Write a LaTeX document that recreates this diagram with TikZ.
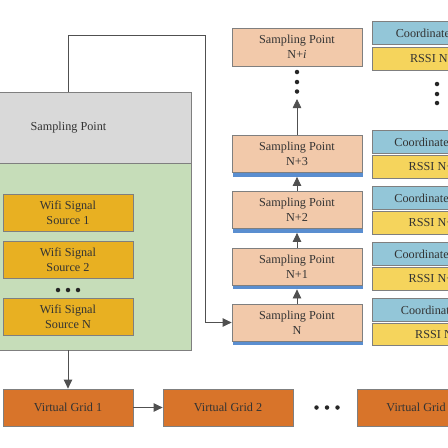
\documentclass[tikz,border=0pt]{standalone}
\usepackage{fontspec}
\setmainfont{Liberation Serif}
\usetikzlibrary{arrows.meta,shadows}
\definecolor{bordergray}{HTML}{7F7F7F}
\definecolor{topgray}{HTML}{D9D9D9}
\definecolor{lightgreen}{HTML}{C6DDB9}
\definecolor{wifiyellow}{HTML}{E8B022}
\definecolor{gridorange}{HTML}{D8742A}
\definecolor{peach}{HTML}{F2C9AA}
\definecolor{stripblue}{HTML}{5A8ED0}
\definecolor{coordblue}{HTML}{93C6D8}
\definecolor{rssiyellow}{HTML}{F5D45C}
\definecolor{txt}{HTML}{333333}
\definecolor{linegray}{HTML}{505050}
\tikzset{
  box/.style={draw=bordergray, line width=0.8pt, inner sep=1pt, align=center,
    text=txt, font=\fontsize{12.2}{14.7}\selectfont},
  wifibox/.style={box, fill=wifiyellow, minimum width=130pt, minimum height=37pt},
  gridbox/.style={box, fill=gridorange, minimum width=130pt, minimum height=37pt},
  sampbox/.style={box, fill=peach, minimum width=130pt, minimum height=37pt},
  stripbox/.style={sampbox, general shadow={fill=stripblue, shadow xshift=1.2pt, shadow yshift=-4pt}},
  coordbox/.style={box, fill=coordblue, minimum width=124pt, minimum height=22.5pt},
  rssibox/.style={box, fill=rssiyellow, minimum width=124pt, minimum height=22.5pt},
  conn/.style={draw=linegray, line width=0.8pt},
  arr/.style={conn, -{Triangle[length=9pt,width=8.5pt]}},
  dot/.style={circle, fill=black!85, inner sep=0pt, minimum size=4.5pt}
}
\begin{document}
\begin{tikzpicture}[x=1pt,y=-1pt]
\useasboundingbox (0,0) rectangle (448,448);
\clip (0,0) rectangle (448,448);
\fill[white] (0,0) rectangle (448,448);
% left block
\node[box, fill=topgray, minimum width=245pt, minimum height=71pt] (sp) at (68.5,127.5) {Sampling Point};
\node[box, fill=lightgreen, minimum width=245pt, minimum height=187pt] (green) at (68.5,256.5) {};
\node[wifibox] (w1) at (68,213) {Wifi Signal\\Source 1};
\node[wifibox] (w2) at (68,259.5) {Wifi Signal\\Source 2};
\node[wifibox] (wn) at (68,316.5) {Wifi Signal\\Source N};
\node[dot] (wd1) at (58,290) {};
\node[dot] (wd2) at (68,290) {};
\node[dot] (wd3) at (78,290) {};
% virtual grids
\node[gridbox] (vg1) at (68,407.5) {Virtual Grid 1};
\node[gridbox] (vg2) at (228,407.5) {Virtual Grid 2};
\node[gridbox] (vgn) at (422,407.5) {Virtual Grid N};
\node[dot] (gd1) at (316.5,407.5) {};
\node[dot] (gd2) at (327,407.5) {};
\node[dot] (gd3) at (337.5,407.5) {};
% sampling points column
\node[sampbox, minimum height=38pt] (si) at (297,47) {Sampling Point\\N+\textit{i}};
\node[stripbox] (s3) at (297,154) {Sampling Point\\N+3};
\node[stripbox] (s2) at (297,210) {Sampling Point\\N+2};
\node[stripbox] (s1) at (297,266.5) {Sampling Point\\N+1};
\node[stripbox] (sN) at (297,322.5) {Sampling Point\\N};
\node[dot] (sd1) at (297,72) {};
\node[dot] (sd2) at (297,82) {};
\node[dot] (sd3) at (297,91.5) {};
\coordinate (sdtip) at (297,99);
% coordinate / rssi column
\node[coordbox] (ci) at (434,33) {Coordinate N+\textit{i}};
\node[rssibox] (ri) at (434,59) {RSSI N+\textit{i}};
\node[coordbox] (c3) at (434,142) {Coordinate N+3};
\node[rssibox] (r3) at (434,167) {RSSI N+3};
\node[coordbox] (c2) at (434,198) {Coordinate N+2};
\node[rssibox] (r2) at (434,223) {RSSI N+2};
\node[coordbox] (c1) at (434,254) {Coordinate N+1};
\node[rssibox] (r1) at (434,279) {RSSI N+1};
\node[coordbox] (c0) at (434,310) {Coordinate N};
\node[rssibox] (r0) at (434,334.5) {RSSI N};
\node[dot] (cd1) at (437,84) {};
\node[dot] (cd2) at (437,94) {};
\node[dot] (cd3) at (437,103) {};
% connectors
\coordinate (turn) at (205.7,35);
\draw[arr] (sp.north) |- (turn) |- (sN.west);
\draw[arr] (green.south -| vg1.north) -- (vg1.north);
\draw[arr] (vg1.east) -- (vg2.west);
\draw[arr] (sN.north) -- ([yshift=-4pt]s1.south);
\draw[arr] (s1.north) -- ([yshift=-4pt]s2.south);
\draw[arr] (s2.north) -- ([yshift=-4pt]s3.south);
\draw[arr] (s3.north) -- (sdtip);
\end{tikzpicture}
\end{document}
